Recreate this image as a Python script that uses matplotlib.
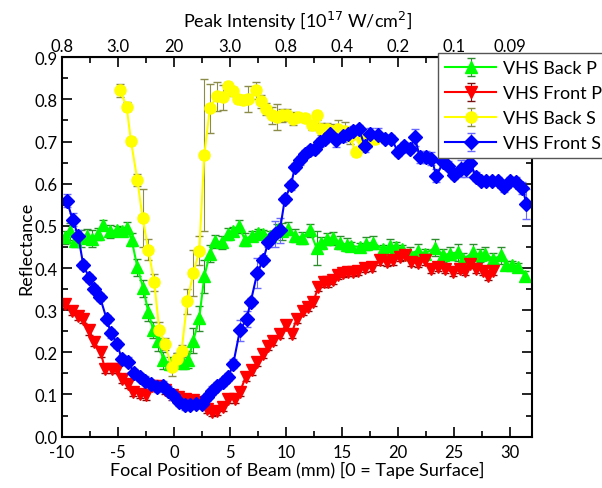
import matplotlib
matplotlib.use("Agg")
import matplotlib.pyplot as plt
from matplotlib.ticker import MultipleLocator, FormatStrFormatter

plt.rcParams['font.family'] = ['Lato', 'DejaVu Sans']
plt.rcParams['axes.unicode_minus'] = False

# VHS Back P
back_p_x = [-9.73, -9.29, -8.84, -8.30, -7.80, -7.35, -6.76, -6.31, -5.71, -5.12, -4.67, -4.23, -3.78, -3.27,
            -2.74, -2.29, -1.85, -1.40, -0.95, -0.36, 0.24, 0.80, 1.28, 1.73, 2.26, 2.71, 3.21, 3.66, 4.26, 4.85,
            5.30, 5.80, 6.34, 6.93, 7.53, 7.98, 8.57, 9.17, 9.61, 10.21, 10.80, 11.40, 12.14, 12.74, 13.18, 13.63,
            14.23, 14.82, 15.42, 15.86, 16.61, 17.20, 17.80, 18.69, 19.29, 19.82, 20.33, 21.07, 21.82, 22.41,
            23.30, 24.05, 24.64, 25.39, 25.83, 26.73, 27.32, 27.77, 28.51, 29.26, 29.70, 30.24, 30.74, 31.34]
back_p_y = [0.473, 0.487, 0.465, 0.470, 0.477, 0.469, 0.481, 0.503, 0.487, 0.489, 0.487, 0.495, 0.467, 0.402,
            0.352, 0.295, 0.253, 0.228, 0.181, 0.173, 0.184, 0.175, 0.182, 0.228, 0.281, 0.380, 0.434, 0.463,
            0.461, 0.481, 0.487, 0.499, 0.467, 0.477, 0.482, 0.481, 0.477, 0.489, 0.487, 0.493, 0.477, 0.471,
            0.489, 0.447, 0.459, 0.469, 0.470, 0.460, 0.455, 0.452, 0.450, 0.458, 0.460, 0.445, 0.453, 0.451,
            0.445, 0.434, 0.441, 0.434, 0.448, 0.430, 0.434, 0.437, 0.421, 0.437, 0.430, 0.434, 0.421, 0.430,
            0.406, 0.406, 0.402, 0.382]
back_p_err = [0.015, 0.02, 0.015, 0.02, 0.015, 0.02, 0.015, 0.01, 0.015, 0.01, 0.01, 0.015, 0.015, 0.02,
              0.02, 0.02, 0.02, 0.025, 0.02, 0.015, 0.015, 0.015, 0.02, 0.03, 0.03, 0.04, 0.02, 0.015,
              0.015, 0.015, 0.01, 0.015, 0.015, 0.01, 0.01, 0.01, 0.01, 0.015, 0.02, 0.015, 0.015, 0.015,
              0.015, 0.04, 0.015, 0.015, 0.015, 0.015, 0.015, 0.01, 0.01, 0.015, 0.015, 0.01, 0.015, 0.01,
              0.01, 0.015, 0.015, 0.01, 0.02, 0.015, 0.015, 0.02, 0.015, 0.02, 0.015, 0.015, 0.015, 0.02,
              0.01, 0.01, 0.01, 0.01]

# VHS Front P
front_p_x = [-9.73, -9.14, -8.54, -8.10, -7.56, -7.11, -6.55, -6.16, -5.57, -5.12, -4.61, -4.08, -3.63, -3.04,
             -2.50, -1.99, -1.40, -0.80, -0.21, 0.39, 0.98, 1.73, 2.17, 2.92, 3.36, 3.81, 4.40, 4.85, 5.45,
             5.89, 6.40, 6.93, 7.44, 7.98, 8.42, 8.87, 9.46, 10.00, 10.51, 10.95, 11.55, 12.00, 12.44, 12.89,
             13.39, 13.78, 14.23, 14.67, 15.12, 15.57, 16.01, 16.46, 17.05, 17.65, 18.39, 18.99, 19.58, 20.18,
             20.62, 21.22, 21.81, 22.41, 23.00, 23.60, 24.20, 24.94, 25.54, 25.98, 26.43, 27.02, 27.62, 28.07,
             28.51]
front_p_y = [0.315, 0.299, 0.287, 0.279, 0.252, 0.224, 0.200, 0.161, 0.161, 0.161, 0.137, 0.125, 0.106, 0.102,
             0.098, 0.121, 0.121, 0.110, 0.098, 0.094, 0.090, 0.086, 0.082, 0.066, 0.058, 0.062, 0.070, 0.090,
             0.090, 0.106, 0.141, 0.157, 0.177, 0.196, 0.216, 0.228, 0.244, 0.264, 0.244, 0.279, 0.299, 0.307,
             0.319, 0.355, 0.366, 0.366, 0.372, 0.384, 0.388, 0.390, 0.390, 0.394, 0.400, 0.402, 0.418, 0.414,
             0.418, 0.426, 0.430, 0.414, 0.412, 0.418, 0.398, 0.402, 0.398, 0.390, 0.398, 0.394, 0.410, 0.398,
             0.394, 0.382, 0.394]

# VHS Back S
back_s_x = [-4.82, -4.23, -3.84, -3.27, -2.80, -2.29, -1.76, -1.31, -0.80, -0.21, 0.24, 0.68, 1.19, 1.73, 2.26,
            2.71, 3.21, 3.81, 4.35, 4.85, 5.30, 5.74, 6.19, 6.64, 7.32, 7.74, 8.21, 8.72, 9.17, 9.61, 10.06,
            10.60, 11.10, 11.70, 12.29, 12.74, 13.18, 13.63, 14.17, 14.67, 15.27, 15.71, 16.22, 16.76, 17.35,
            17.95]
back_s_y = [0.821, 0.783, 0.701, 0.609, 0.519, 0.443, 0.366, 0.253, 0.220, 0.165, 0.184, 0.203, 0.321, 0.388,
            0.441, 0.668, 0.779, 0.807, 0.805, 0.831, 0.819, 0.801, 0.799, 0.801, 0.821, 0.795, 0.777, 0.762,
            0.758, 0.762, 0.763, 0.754, 0.758, 0.756, 0.738, 0.762, 0.730, 0.730, 0.726, 0.730, 0.726, 0.714,
            0.675, 0.706, 0.702, 0.706]
back_s_err = [0.015, 0.01, 0.01, 0.015, 0.068, 0.025, 0.02, 0.02, 0.015, 0.02, 0.015, 0.015, 0.03, 0.055, 0.035,
              0.18, 0.058, 0.035, 0.03, 0.01, 0.01, 0.01, 0.01, 0.03, 0.02, 0.015, 0.015, 0.02, 0.03, 0.015,
              0.015, 0.015, 0.01, 0.01, 0.01, 0.01, 0.015, 0.015, 0.015, 0.02, 0.02, 0.02, 0.01, 0.015, 0.015,
              0.01]

# VHS Front S
front_s_x = [-9.58, -9.05, -8.54, -8.10, -7.56, -7.11, -6.61, -6.01, -5.63, -5.06, -4.67, -4.08, -3.57, -3.04,
             -2.59, -2.08, -1.55, -1.01, -0.51, -0.06, 0.45, 0.98, 1.43, 1.96, 2.47, 2.92, 3.36, 3.81, 4.40,
             4.85, 5.30, 5.89, 6.49, 6.85, 7.44, 7.98, 8.42, 9.02, 9.46, 9.91, 10.45, 10.80, 11.25, 11.70,
             12.14, 12.59, 13.04, 13.48, 13.93, 14.52, 15.12, 15.57, 16.01, 16.52, 17.05, 17.50, 18.24, 18.84,
             19.43, 20.03, 20.54, 21.07, 21.52, 21.96, 22.56, 23.00, 23.45, 24.05, 24.49, 25.00, 25.60, 26.07,
             26.49, 26.96, 27.47, 27.92, 28.45, 28.96, 29.46, 30.00, 30.60, 31.13, 31.49]
front_s_y = [0.560, 0.515, 0.475, 0.407, 0.376, 0.350, 0.331, 0.279, 0.245, 0.220, 0.184, 0.178, 0.151, 0.141,
             0.133, 0.125, 0.117, 0.121, 0.109, 0.098, 0.082, 0.074, 0.075, 0.078, 0.078, 0.094, 0.109, 0.120,
             0.129, 0.141, 0.173, 0.252, 0.279, 0.319, 0.388, 0.420, 0.461, 0.481, 0.489, 0.564, 0.596, 0.639,
             0.655, 0.671, 0.679, 0.683, 0.698, 0.706, 0.718, 0.703, 0.714, 0.718, 0.726, 0.730, 0.689, 0.718,
             0.716, 0.706, 0.706, 0.675, 0.690, 0.683, 0.710, 0.663, 0.663, 0.659, 0.619, 0.651, 0.643, 0.621,
             0.635, 0.635, 0.648, 0.617, 0.607, 0.607, 0.607, 0.607, 0.591, 0.607, 0.605, 0.590, 0.552]
front_s_err = [0.015, 0.015, 0.015, 0.01, 0.01, 0.01, 0.01, 0.01, 0.01, 0.01, 0.01, 0.01, 0.01, 0.01,
               0.01, 0.01, 0.01, 0.01, 0.01, 0.01, 0.01, 0.01, 0.01, 0.01, 0.01, 0.01, 0.01, 0.01,
               0.01, 0.01, 0.01, 0.025, 0.02, 0.01, 0.035, 0.01, 0.01, 0.03, 0.03, 0.01, 0.01, 0.01,
               0.01, 0.01, 0.01, 0.01, 0.01, 0.01, 0.01, 0.015, 0.015, 0.01, 0.01, 0.01, 0.015, 0.015,
               0.015, 0.01, 0.01, 0.01, 0.01, 0.01, 0.02, 0.015, 0.015, 0.015, 0.015, 0.01, 0.01, 0.01,
               0.02, 0.02, 0.015, 0.01, 0.01, 0.01, 0.01, 0.01, 0.01, 0.01, 0.01, 0.015, 0.035]

top_ticks = [-10, -5, 0, 5, 10, 15, 20, 25, 30]
top_labels = ['0.8', '3.0', '20', '3.0', '0.8', '0.4', '0.2', '0.1', '0.09']

fig = plt.figure(figsize=(6.02, 4.89), dpi=100)
ax = fig.add_axes([0.103, 0.105, 0.781, 0.776])

ax.errorbar(back_p_x, back_p_y, yerr=back_p_err, color='#00ff00', marker='^', ms=9, lw=1.5,
            ecolor='#2e8b2e', elinewidth=0.8, capsize=3, label='VHS Back P')
ax.errorbar(front_p_x, front_p_y, yerr=[0.01] * len(front_p_x), color='#ff0000', marker='v', ms=9, lw=1.5,
            ecolor='#7a1010', elinewidth=0.8, capsize=3, label='VHS Front P')
ax.errorbar(back_s_x, back_s_y, yerr=back_s_err, color='#ffff00', marker='o', ms=8, lw=1.5,
            ecolor='#8b8b4a', elinewidth=0.8, capsize=3, label='VHS Back S')
ax.errorbar(front_s_x, front_s_y, yerr=front_s_err, color='#0000ff', marker='D', ms=7.5, lw=1.5,
            ecolor='#6a6aff', elinewidth=0.8, capsize=3, label='VHS Front S')

ax.set_xlim(-10, 32)
ax.set_ylim(0, 0.9)
ax.xaxis.set_major_locator(MultipleLocator(5))
ax.xaxis.set_minor_locator(MultipleLocator(2.5))
ax.yaxis.set_major_locator(MultipleLocator(0.1))
ax.yaxis.set_minor_locator(MultipleLocator(0.05))
ax.yaxis.set_major_formatter(FormatStrFormatter('%.1f'))
ax.tick_params(which='both', direction='in', top=True, right=True, width=1.2, labelsize=12)
ax.tick_params(axis='x', pad=5)
ax.tick_params(axis='y', pad=3)
ax.tick_params(which='major', length=7)
ax.tick_params(which='minor', length=4)
for s in ax.spines.values():
    s.set_linewidth(1.5)

ax.set_xlabel('Focal Position of Beam (mm) [0 = Tape Surface]', fontsize=13, labelpad=1)
ax.set_ylabel('Reflectance', fontsize=13, labelpad=0)

top = ax.secondary_xaxis('top')
top.set_xticks(top_ticks)
top.set_xticklabels(top_labels)
top.tick_params(direction='in', length=0, labelsize=12, pad=2)
top.set_xlabel('Peak Intensity [10$^{17}$ W/cm$^2$]', fontsize=13, labelpad=8)

leg = ax.legend(loc='upper left', bbox_to_anchor=(0.728, 0.89), bbox_transform=fig.transFigure,
                fontsize=13, frameon=True, fancybox=False, framealpha=1, edgecolor='#555555',
                handlelength=2.8, borderpad=0.4, labelspacing=0.5, handletextpad=0.4, borderaxespad=0)
leg.get_frame().set_linewidth(1.0)

fig.savefig('out.png', dpi=100)
